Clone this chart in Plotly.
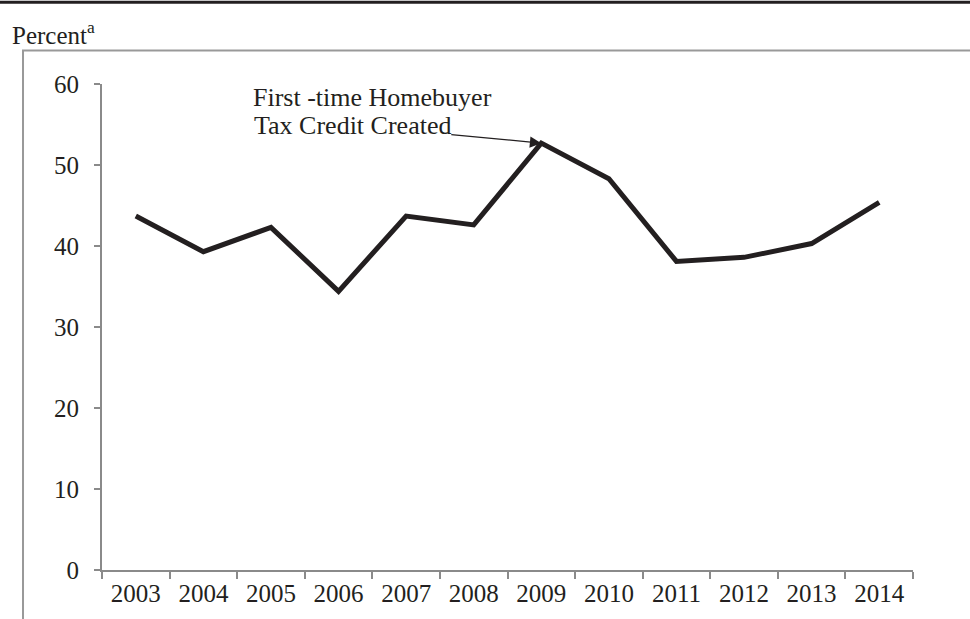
import plotly.graph_objects as go

# datos
years = ["2003", "2004", "2005", "2006", "2007", "2008",
         "2009", "2010", "2011", "2012", "2013", "2014"]
percent = [43.7, 39.3, 42.3, 34.4, 43.7, 42.6,
           52.7, 48.3, 38.1, 38.6, 40.3, 45.4]
y_ticks = [0, 10, 20, 30, 40, 50, 60]
note_lines = ["First -time Homebuyer", "Tax Credit Created"]
peak = years.index("2009")

font_serif = "Liberation Serif, Times New Roman, serif"
axis_gray = "#8a8a8a"
ink = "#231f20"

fig = go.Figure()

fig.add_trace(go.Scatter(
    x=years, y=percent,
    mode="lines",
    line=dict(color=ink, width=5),
    showlegend=False,
    hoverinfo="x+y"))

# primera linea de la nota
fig.add_annotation(
    x=0.1855, y=0.9725, xref="paper", yref="paper",
    xanchor="left", yanchor="middle", align="left",
    text=note_lines[0], showarrow=False, borderpad=0,
    font=dict(family=font_serif, size=26, color=ink))

# segunda linea, con flecha hacia el pico de 2009
fig.add_annotation(
    x=peak, y=percent[peak], xref="x", yref="y",
    text=note_lines[1], showarrow=True, borderpad=0,
    ax=-189, ay=-18,
    arrowhead=2, arrowsize=1.9, arrowwidth=1.2, arrowcolor=ink,
    font=dict(family=font_serif, size=26, color=ink))

# titulo del eje
fig.add_annotation(
    x=-0.1134, y=1.104, xref="paper", yref="paper",
    xanchor="left", yanchor="middle",
    text="Percent<sup>a</sup>", showarrow=False,
    font=dict(family=font_serif, size=25, color=ink))

# marco gris y linea negra superior
fig.add_shape(type="rect", xref="paper", yref="paper",
              x0=-0.0974, x1=1.3, y0=-0.3, y1=1.069,
              line=dict(color="#999999", width=2), layer="below")
fig.add_shape(type="line", xref="paper", yref="paper",
              x0=-0.2, x1=1.3, y0=1.168, y1=1.168,
              line=dict(color=ink, width=3))

fig.update_layout(
    width=970, height=619,
    margin=dict(l=102, r=57, t=84, b=41),
    plot_bgcolor="white",
    paper_bgcolor="white",
    font=dict(family=font_serif, size=25, color=ink),
    xaxis=dict(
        type="category",
        range=[-0.5, 11.5],
        tickson="boundaries",
        ticks="outside", ticklen=7, tickcolor=axis_gray, tickwidth=2,
        showline=True, linecolor=axis_gray, linewidth=2,
        showgrid=False, zeroline=False,
        tickfont=dict(family=font_serif, size=25)),
    yaxis=dict(
        range=[0, 60],
        tickvals=y_ticks,
        ticks="outside", ticklen=6, tickcolor=axis_gray, tickwidth=2,
        ticklabelstandoff=10,
        showline=True, linecolor=axis_gray, linewidth=2,
        showgrid=False, zeroline=False,
        tickfont=dict(family=font_serif, size=25)),
)

# quitar el margen del body para que la figura empiece en (0, 0)
fig.write_html("out.html",
               config={"displayModeBar": False},
               post_script="document.body.style.margin='0px';")
